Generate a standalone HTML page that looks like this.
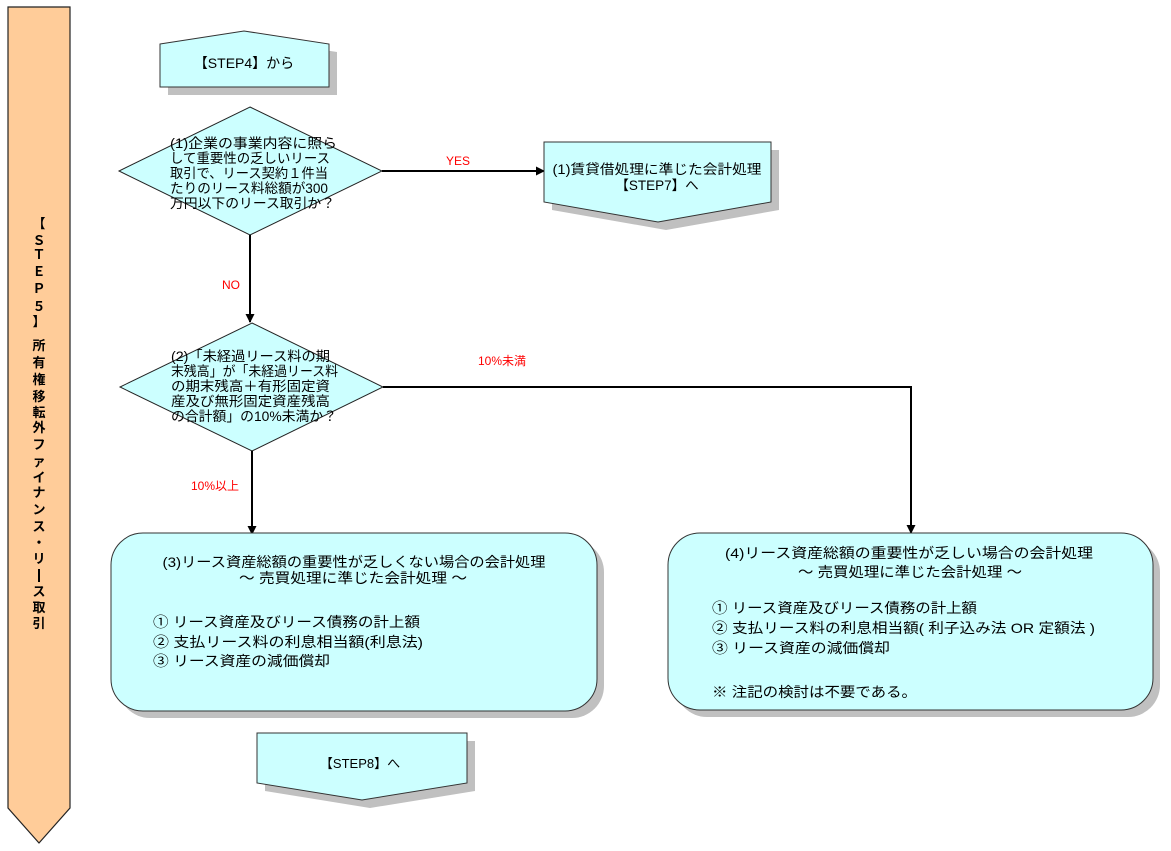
<!DOCTYPE html>
<html><head><meta charset="utf-8"><style>
html,body{margin:0;padding:0;background:#fff;}
svg{display:block;}
text{font-family:"Liberation Sans","Noto Sans CJK JP",sans-serif;fill:#000;}
.r{fill:#ff0000;font-size:12px;}
.d{font-size:13.5px;}
.b{font-size:14px;}
.v{font-size:13px;font-weight:bold;font-family:"Noto Sans CJK JP",sans-serif;}
</style></head><body>
<svg width="1171" height="851" viewBox="0 0 1171 851" xmlns="http://www.w3.org/2000/svg">
<defs>
<marker id="ah" markerWidth="9" markerHeight="9" refX="8" refY="4.5" orient="auto" markerUnits="userSpaceOnUse">
<path d="M0,0 L9,4.5 L0,9 Z" fill="#000"/>
</marker>
</defs>

<!-- left vertical bar -->
<polygon points="8,7 70,7 70,808 39,843 8,808" fill="#FFCC99" stroke="#222" stroke-width="1.2"/>
<g class="v" text-anchor="middle">
<text x="39" y="228">【</text>
<text x="39" y="245">Ｓ</text>
<text x="39" y="259">Ｔ</text>
<text x="39" y="276">Ｅ</text>
<text x="39" y="293">Ｐ</text>
<text x="39" y="311">５</text>
<text x="39" y="326">】</text>
<text x="39" y="350">所</text>
<text x="39" y="367">有</text>
<text x="39" y="384">権</text>
<text x="39" y="401">移</text>
<text x="39" y="417">転</text>
<text x="39" y="432">外</text>
<text x="39" y="449">フ</text>
<text x="39" y="466">ァ</text>
<text x="39" y="482">イ</text>
<text x="39" y="497">ナ</text>
<text x="39" y="514">ン</text>
<text x="39" y="531">ス</text>
<text x="39" y="547">・</text>
<text x="39" y="563">リ</text>
<text x="39" y="596">ス</text>
<text x="39" y="612">取</text>
<text x="39" y="628">引</text>
</g>
<rect x="38" y="569" width="2" height="13" fill="#000"/>

<!-- STEP4 box -->
<polygon points="168,52 252,39 337,52 337,95 168,95" fill="#C0C0C0"/>
<polygon points="160,44 244,31 329,44 329,87 160,87" fill="#CCFFFF" stroke="#333" stroke-width="1"/>
<text x="244" y="68" text-anchor="middle" class="b" font-size="13">【STEP4】から</text>

<!-- diamond 1 -->
<polygon points="250,107 382,171 250,235 119,171" fill="#CCFFFF" stroke="#222" stroke-width="1"/>
<g class="d">
<text x="170" y="148" textLength="167" lengthAdjust="spacingAndGlyphs">(1)企業の事業内容に照ら</text>
<text x="170" y="163" textLength="160" lengthAdjust="spacingAndGlyphs">して重要性の乏しいリース</text>
<text x="170" y="178" textLength="158" lengthAdjust="spacingAndGlyphs">取引で、リース契約１件当</text>
<text x="170" y="193" textLength="158" lengthAdjust="spacingAndGlyphs">たりのリース料総額が300</text>
<text x="170" y="208" textLength="165" lengthAdjust="spacingAndGlyphs">万円以下のリース取引か？</text>
</g>

<!-- YES arrow -->
<line x1="382" y1="171" x2="544" y2="171" stroke="#000" stroke-width="2" marker-end="url(#ah)"/>
<text x="458" y="165" text-anchor="middle" class="r">YES</text>

<!-- box 1 -->
<polygon points="552,150 779,150 779,210 666,230 552,210" fill="#C0C0C0"/>
<polygon points="544,142 771,142 771,202 658,222 544,202" fill="#CCFFFF" stroke="#333" stroke-width="1"/>
<text x="657" y="174" text-anchor="middle" font-size="13.5" textLength="209" lengthAdjust="spacingAndGlyphs">(1)賃貸借処理に準じた会計処理</text>
<text x="657" y="190" text-anchor="middle" font-size="13.5">【STEP7】へ</text>

<!-- NO arrow -->
<line x1="250" y1="235" x2="250" y2="322" stroke="#000" stroke-width="2" marker-end="url(#ah)"/>
<text x="231" y="289" text-anchor="middle" class="r">NO</text>

<!-- diamond 2 -->
<polygon points="252,323 383,387 252,451 120,387" fill="#CCFFFF" stroke="#222" stroke-width="1"/>
<g class="d">
<text x="171" y="361" textLength="159" lengthAdjust="spacingAndGlyphs">(2)「未経過リース料の期</text>
<text x="171" y="376" textLength="167" lengthAdjust="spacingAndGlyphs">末残高」が「未経過リース料</text>
<text x="171" y="391" textLength="159" lengthAdjust="spacingAndGlyphs">の期末残高＋有形固定資</text>
<text x="171" y="406" textLength="159" lengthAdjust="spacingAndGlyphs">産及び無形固定資産残高</text>
<text x="171" y="421" textLength="166" lengthAdjust="spacingAndGlyphs">の合計額」の10%未満か？</text>
</g>

<!-- 10%未満 path -->
<polyline points="383,387 911,387 911,533" fill="none" stroke="#000" stroke-width="2" marker-end="url(#ah)"/>
<text x="502" y="365" text-anchor="middle" class="r">10%未満</text>

<!-- 10%以上 arrow -->
<line x1="252" y1="451" x2="252" y2="534" stroke="#000" stroke-width="2" marker-end="url(#ah)"/>
<text x="215" y="490" text-anchor="middle" class="r">10%以上</text>

<!-- box 3 -->
<rect x="118" y="540" width="486" height="178" rx="32" ry="32" fill="#C0C0C0"/>
<rect x="111" y="533" width="486" height="178" rx="32" ry="32" fill="#CCFFFF" stroke="#333" stroke-width="1"/>
<g class="b">
<text x="354" y="567" text-anchor="middle" textLength="383" lengthAdjust="spacingAndGlyphs">(3)リース資産総額の重要性が乏しくない場合の会計処理</text>
<text x="353" y="583" text-anchor="middle" textLength="228" lengthAdjust="spacingAndGlyphs">～ 売買処理に準じた会計処理 ～</text>
<text x="153" y="627" textLength="267" lengthAdjust="spacingAndGlyphs">① リース資産及びリース債務の計上額</text>
<text x="153" y="647" textLength="270" lengthAdjust="spacingAndGlyphs">② 支払リース料の利息相当額(利息法)</text>
<text x="153" y="666" textLength="177" lengthAdjust="spacingAndGlyphs">③ リース資産の減価償却</text>
</g>

<!-- box 4 -->
<rect x="675" y="540" width="485" height="177" rx="32" ry="32" fill="#C0C0C0"/>
<rect x="668" y="533" width="485" height="177" rx="32" ry="32" fill="#CCFFFF" stroke="#333" stroke-width="1"/>
<g class="b">
<text x="909" y="558" text-anchor="middle" textLength="368" lengthAdjust="spacingAndGlyphs">(4)リース資産総額の重要性が乏しい場合の会計処理</text>
<text x="910" y="577" text-anchor="middle" textLength="224" lengthAdjust="spacingAndGlyphs">～ 売買処理に準じた会計処理 ～</text>
<text x="712" y="613" textLength="265" lengthAdjust="spacingAndGlyphs">① リース資産及びリース債務の計上額</text>
<text x="712" y="633" textLength="383" lengthAdjust="spacingAndGlyphs">② 支払リース料の利息相当額( 利子込み法 OR 定額法 )</text>
<text x="712" y="653" textLength="178" lengthAdjust="spacingAndGlyphs">③ リース資産の減価償却</text>
<text x="712" y="697" textLength="205" lengthAdjust="spacingAndGlyphs">※ 注記の検討は不要である。</text>
</g>

<!-- STEP8 box -->
<polygon points="265,741 475,741 475,791 370,808 265,791" fill="#C0C0C0"/>
<polygon points="257,733 467,733 467,783 362,800 257,783" fill="#CCFFFF" stroke="#333" stroke-width="1"/>
<text x="360" y="768" text-anchor="middle" font-size="13">【STEP8】へ</text>
</svg>
</body></html>
